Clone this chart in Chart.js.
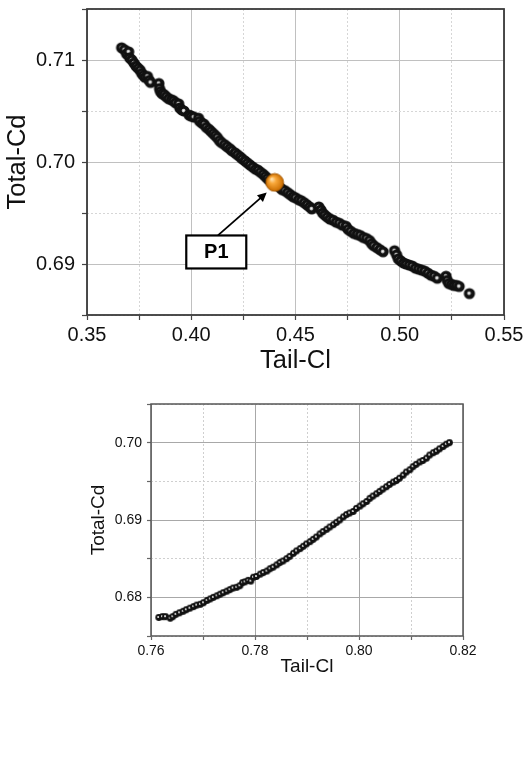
<!DOCTYPE html>
<html lang="en">
  <head>
    <meta charset="utf-8" />
    <script src="https://cdn.jsdelivr.net/npm/chart.js"></script>
    <title>index</title>
    <style>
      body { margin: 0; background: #fff; }
      .box { position: absolute; left: 0; width: 523px; }
      #topBox { top: 0; height: 380px; }
      #bottomBox { top: 380px; height: 378px; }
    </style>
  </head>
  <body>
    <div class="box" id="topBox"><canvas id="topChart" width="523" height="380"></canvas></div>
    <div class="box" id="bottomBox"><canvas id="bottomChart" width="523" height="378"></canvas></div>
    <script>
      // upper plot: Tail-Cl vs Total-Cd (falling front)
      const topTail = [
        0.3666, 0.3680, 0.3690, 0.3700, 0.3705, 0.3715, 0.3725, 0.3735, 0.3745, 0.3755,
        0.3762, 0.3770, 0.3778, 0.3790, 0.3798, 0.3805, 0.3845, 0.3848, 0.3852, 0.3860,
        0.3870, 0.3880, 0.3892, 0.3905, 0.3915, 0.3925, 0.3940, 0.3945, 0.3955, 0.3965,
        0.3990, 0.4000, 0.4012, 0.4035, 0.4040, 0.4052, 0.4062, 0.4072, 0.4085, 0.4095,
        0.4105, 0.4115, 0.4125, 0.4135, 0.4145, 0.4160, 0.4172, 0.4185, 0.4195, 0.4210,
        0.4222, 0.4235, 0.4245, 0.4258, 0.4270, 0.4282, 0.4295, 0.4308, 0.4320, 0.4332,
        0.4345, 0.4355, 0.4365, 0.4375, 0.4425, 0.4435, 0.4448, 0.4462, 0.4475, 0.4488,
        0.4500, 0.4515, 0.4528, 0.4542, 0.4555, 0.4568, 0.4578, 0.4612, 0.4622, 0.4630,
        0.4640, 0.4652, 0.4665, 0.4680, 0.4695, 0.4710, 0.4725, 0.4742, 0.4752, 0.4765,
        0.4780, 0.4795, 0.4810, 0.4825, 0.4840, 0.4855, 0.4865, 0.4875, 0.4890, 0.4905,
        0.4920, 0.4975, 0.4985, 0.4993, 0.5005, 0.5018, 0.5030, 0.5045, 0.5060, 0.5075,
        0.5090, 0.5105, 0.5120, 0.5135, 0.5150, 0.5165, 0.5180, 0.5222, 0.5228, 0.5235,
        0.5248, 0.5260, 0.5272, 0.5285, 0.5334
      ];
      const topTotal = [
        0.7112, 0.7110, 0.7106, 0.7108, 0.7102, 0.7100, 0.7097, 0.7094, 0.7092, 0.7090,
        0.7087, 0.7085, 0.7083, 0.7084, 0.7080, 0.7078, 0.7077, 0.7072, 0.7069, 0.7067,
        0.7066, 0.7064, 0.7062, 0.7061, 0.7060, 0.7058, 0.7057, 0.7053, 0.7051, 0.7050,
        0.7046, 0.7045, 0.7044, 0.7043, 0.7040, 0.7038, 0.7037, 0.7034, 0.7032, 0.7030,
        0.7028, 0.7026, 0.7024, 0.7021, 0.7019, 0.7017, 0.7015, 0.7013, 0.7011, 0.7009,
        0.7007, 0.7005, 0.7003, 0.7001, 0.6999, 0.6997, 0.6995, 0.6993, 0.6992, 0.6990,
        0.6988, 0.6986, 0.6984, 0.6982, 0.6975, 0.6973, 0.6972, 0.6970, 0.6968, 0.6966,
        0.6965, 0.6963, 0.6962, 0.6960, 0.6958, 0.6956, 0.6954, 0.6956, 0.6953, 0.6950,
        0.6948, 0.6946, 0.6944, 0.6943, 0.6941, 0.6940, 0.6938, 0.6937, 0.6934, 0.6932,
        0.6930, 0.6929, 0.6928, 0.6926, 0.6925, 0.6923, 0.6920, 0.6918, 0.6916, 0.6914,
        0.6912, 0.6913, 0.6909, 0.6905, 0.6903, 0.6901, 0.6900, 0.6899, 0.6898, 0.6896,
        0.6895, 0.6894, 0.6893, 0.6891, 0.6889, 0.6888, 0.6886, 0.6888, 0.6884, 0.6881,
        0.6880, 0.6879, 0.6879, 0.6878, 0.6871
      ];
      const p1Tail = [0.44];
      const p1Total = [0.698];

      // lower plot: rising front
      const bottomTail = [
        0.7615, 0.7622, 0.7628, 0.7637, 0.7642, 0.7648, 0.7655, 0.7662, 0.7668, 0.7675,
        0.7682, 0.7688, 0.7695, 0.7701, 0.7708, 0.7714, 0.7720, 0.7727, 0.7733, 0.7739,
        0.7746, 0.7752, 0.7758, 0.7765, 0.7771, 0.7776, 0.7781, 0.7787, 0.7792, 0.7797,
        0.7803, 0.7810, 0.7816, 0.7823, 0.7829, 0.7835, 0.7842, 0.7848, 0.7854, 0.7861,
        0.7867, 0.7874, 0.7880, 0.7887, 0.7893, 0.7899, 0.7906, 0.7912, 0.7918, 0.7925,
        0.7931, 0.7938, 0.7944, 0.7951, 0.7957, 0.7963, 0.7970, 0.7976, 0.7982, 0.7989,
        0.7995, 0.8002, 0.8008, 0.8015, 0.8021, 0.8027, 0.8034, 0.8040, 0.8046, 0.8053,
        0.8059, 0.8066, 0.8072, 0.8078, 0.8085, 0.8091, 0.8098, 0.8104, 0.8110, 0.8117,
        0.8123, 0.8130, 0.8136, 0.8143, 0.8149, 0.8155, 0.8162, 0.8168, 0.8174
      ];
      const bottomTotal = [
        0.6774, 0.6775, 0.6775, 0.6773, 0.6775, 0.6778, 0.6780, 0.6782, 0.6784, 0.6786,
        0.6788, 0.6790, 0.6791, 0.6793, 0.6796, 0.6798, 0.6800, 0.6802, 0.6804, 0.6806,
        0.6808, 0.6810, 0.6812, 0.6813, 0.6815, 0.6819, 0.6820, 0.6822, 0.6821, 0.6826,
        0.6827, 0.6830, 0.6832, 0.6834, 0.6837, 0.6839, 0.6842, 0.6845, 0.6847, 0.6850,
        0.6853, 0.6857, 0.6860, 0.6863, 0.6866, 0.6869, 0.6872, 0.6875, 0.6878, 0.6882,
        0.6885, 0.6888, 0.6891, 0.6894, 0.6897, 0.6900, 0.6904, 0.6907, 0.6909, 0.6911,
        0.6915, 0.6918, 0.6921, 0.6924, 0.6928, 0.6931, 0.6934, 0.6937, 0.6940, 0.6943,
        0.6946, 0.6949, 0.6951, 0.6954, 0.6958, 0.6962, 0.6965, 0.6969, 0.6972, 0.6975,
        0.6977, 0.6980, 0.6984, 0.6987, 0.6989, 0.6992, 0.6995, 0.6998, 0.7000
      ];

      const FONT = "'Liberation Sans', Arial, sans-serif";

      function toPoints(xs, ys) {
        return xs.map((x, i) => ({ x: x, y: ys[i] }));
      }

      // little shaded balls used as point markers
      function ball(r, kind) {
        const c = document.createElement("canvas");
        c.width = c.height = Math.ceil(2 * r + 2);
        const g = c.getContext("2d");
        const m = c.width / 2;
        if (kind === "orange") {
          const grad = g.createRadialGradient(m - r * 0.35, m - r * 0.4, 0.5, m, m, r);
          grad.addColorStop(0, "#ffe2b0");
          grad.addColorStop(0.35, "#f9a83a");
          grad.addColorStop(1, "#c96c00");
          g.fillStyle = grad;
          g.beginPath();
          g.arc(m, m, r, 0, Math.PI * 2);
          g.fill();
          g.strokeStyle = "#a85a00";
          g.lineWidth = 1;
          g.stroke();
        } else {
          g.fillStyle = "#111";
          g.beginPath();
          g.arc(m, m, r, 0, Math.PI * 2);
          g.fill();
          const hl = g.createRadialGradient(m - 0.4, m - 0.4, 0, m - 0.4, m - 0.4, r * 0.42);
          hl.addColorStop(0, "rgba(255,255,255,1)");
          hl.addColorStop(0.6, "rgba(230,230,230,0.8)");
          hl.addColorStop(1, "rgba(255,255,255,0)");
          g.fillStyle = hl;
          g.beginPath();
          g.arc(m - 0.4, m - 0.4, r * 0.42, 0, Math.PI * 2);
          g.fill();
        }
        return c;
      }

      function near(v, step) {
        return Math.abs(v / step - Math.round(v / step)) < 1e-6;
      }

      const framePlugin = {
        id: "frame",
        afterDraw(chart, args, opts) {
          const a = chart.chartArea;
          const ctx = chart.ctx;
          ctx.save();
          ctx.strokeStyle = opts.color;
          ctx.lineWidth = opts.width;
          ctx.strokeRect(a.left, a.top, a.right - a.left, a.bottom - a.top);
          ctx.restore();
        },
      };

      // P1 label box with arrow, placed in data coordinates
      const p1Plugin = {
        id: "p1label",
        beforeDatasetsDraw(chart) {
          const xs = chart.scales.x, ys = chart.scales.y;
          const ctx = chart.ctx;
          const x0 = xs.getPixelForValue(0.4128), y0 = ys.getPixelForValue(0.6928);
          const x1 = xs.getPixelForValue(0.4362), y1 = ys.getPixelForValue(0.6970);
          const ang = Math.atan2(y1 - y0, x1 - x0);
          ctx.save();
          ctx.strokeStyle = "#000";
          ctx.fillStyle = "#000";
          ctx.lineWidth = 1.8;
          ctx.beginPath();
          ctx.moveTo(x0, y0);
          ctx.lineTo(x1 - 5 * Math.cos(ang), y1 - 5 * Math.sin(ang));
          ctx.stroke();
          ctx.beginPath();
          ctx.moveTo(x1, y1);
          ctx.lineTo(x1 - 9 * Math.cos(ang) + 4.5 * Math.sin(ang), y1 - 9 * Math.sin(ang) - 4.5 * Math.cos(ang));
          ctx.lineTo(x1 - 9 * Math.cos(ang) - 4.5 * Math.sin(ang), y1 - 9 * Math.sin(ang) + 4.5 * Math.cos(ang));
          ctx.closePath();
          ctx.fill();
          ctx.restore();
        },
        afterDatasetsDraw(chart) {
          const xs = chart.scales.x, ys = chart.scales.y;
          const ctx = chart.ctx;
          const cx = xs.getPixelForValue(0.412), cy = ys.getPixelForValue(0.69118);
          const w = 60, h = 33;
          ctx.save();
          ctx.fillStyle = "#fff";
          ctx.fillRect(cx - w / 2, cy - h / 2, w, h);
          ctx.strokeStyle = "#000";
          ctx.lineWidth = 2.2;
          ctx.strokeRect(cx - w / 2, cy - h / 2, w, h);
          ctx.fillStyle = "#000";
          ctx.font = "bold 20px " + FONT;
          ctx.textAlign = "center";
          ctx.textBaseline = "middle";
          ctx.fillText("P1", cx, cy + 1);
          ctx.restore();
        },
      };

      function axis(o) {
        return {
          type: "linear",
          position: o.position,
          min: o.min,
          max: o.max,
          border: {
            display: false,
            dash: (ctx) => (ctx.tick && !near(ctx.tick.value, o.major) ? [2, 2] : []),
          },
          grid: {
            color: (ctx) => (ctx.tick && near(ctx.tick.value, o.major) ? o.gridMajor : o.gridMinor),
            lineWidth: 1,
            tickLength: o.tickLength,
            tickColor: o.tickColor,
            tickWidth: 1.2,
          },
          ticks: {
            stepSize: o.step,
            color: "#111",
            padding: o.tickPad,
            maxRotation: 0,
            autoSkip: false,
            font: { family: FONT, size: o.tickSize },
            callback: (v) => (near(v, o.major) ? v.toFixed(2) : ""),
          },
          title: {
            display: true,
            text: o.title,
            color: "#111",
            font: { family: FONT, size: o.titleSize },
            padding: o.titlePad,
          },
          afterFit: (scale) => {
            if (o.position === "left") {
              scale.width = o.size;
              scale.paddingTop = 0;
              scale.paddingBottom = 0;
            } else {
              scale.height = o.size;
              scale.paddingLeft = 0;
              scale.paddingRight = 0;
            }
          },
        };
      }

      const blackBall = ball(5.6, "black");
      const orangeBall = ball(8.8, "orange");
      const smallBall = ball(3.4, "black");

      new Chart(document.getElementById("topChart"), {
        type: "scatter",
        data: {
          datasets: [
            { data: toPoints(p1Tail, p1Total), pointStyle: orangeBall, pointRadius: 8, order: 0 },
            { data: toPoints(topTail, topTotal), pointStyle: blackBall, pointRadius: 5, order: 1 },
          ],
        },
        options: {
          responsive: false,
          animation: false,
          layout: { padding: { left: 0, right: 19, top: 7, bottom: 0 } },
          plugins: {
            legend: { display: false },
            tooltip: { enabled: false },
            frame: { color: "#3a3a3a", width: 1.8 },
          },
          scales: {
            x: axis({
              position: "bottom", min: 0.35, max: 0.55, step: 0.025, major: 0.05,
              size: 65, tickLength: 5, tickPad: 3, tickSize: 20, tickColor: "#444",
              title: "Tail-Cl", titleSize: 25.5, titlePad: { top: 0, bottom: 4 },
              gridMajor: "#c0c0c0", gridMinor: "#d6d6d6",
            }),
            y: axis({
              position: "left", min: 0.685, max: 0.715, step: 0.005, major: 0.01,
              size: 87, tickLength: 5, tickPad: 7, tickSize: 20, tickColor: "#444",
              title: "Total-Cd", titleSize: 25.5, titlePad: { top: 3, bottom: 0 },
              gridMajor: "#c0c0c0", gridMinor: "#d6d6d6",
            }),
          },
        },
        plugins: [framePlugin, p1Plugin],
      });

      new Chart(document.getElementById("bottomChart"), {
        type: "scatter",
        data: {
          datasets: [
            { data: toPoints(bottomTail, bottomTotal), pointStyle: smallBall, pointRadius: 3.4 },
          ],
        },
        options: {
          responsive: false,
          animation: false,
          layout: { padding: { left: 80, right: 60, top: 24, bottom: 80 } },
          plugins: {
            legend: { display: false },
            tooltip: { enabled: false },
            frame: { color: "#555", width: 1.5 },
          },
          scales: {
            x: axis({
              position: "bottom", min: 0.76, max: 0.82, step: 0.01, major: 0.02,
              size: 42, tickLength: 4, tickPad: 3, tickSize: 14, tickColor: "#666",
              title: "Tail-Cl", titleSize: 19, titlePad: { top: 0, bottom: 0 },
              gridMajor: "#a8a8a8", gridMinor: "#cfcfcf",
            }),
            y: axis({
              position: "left", min: 0.675, max: 0.705, step: 0.005, major: 0.01,
              size: 71, tickLength: 4, tickPad: 5, tickSize: 14, tickColor: "#666",
              title: "Total-Cd", titleSize: 19, titlePad: { top: 7, bottom: 0 },
              gridMajor: "#a8a8a8", gridMinor: "#cfcfcf",
            }),
          },
        },
        plugins: [framePlugin],
      });
    </script>
  </body>
</html>
